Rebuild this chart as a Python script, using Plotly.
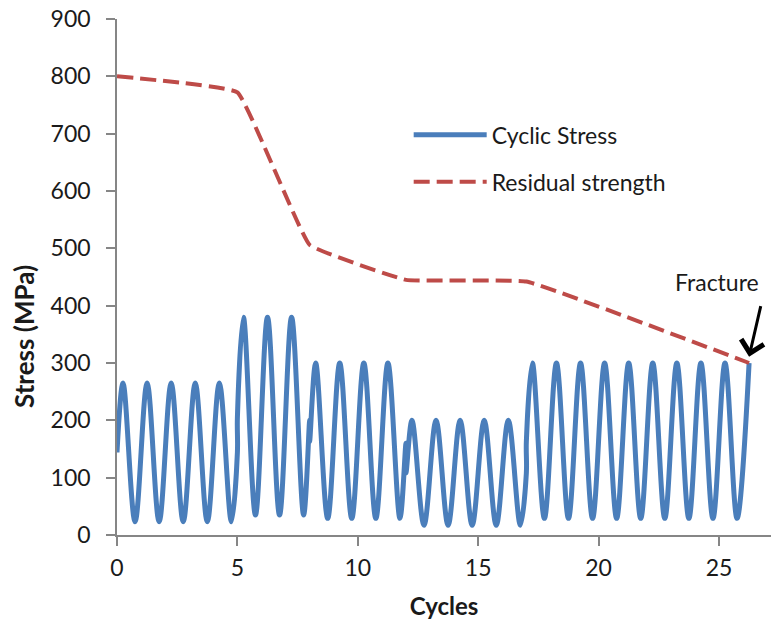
import plotly.graph_objects as go

# ---- Cyclic stress: turning points (cycles, MPa) ----
block1_x = [0, 0.25, 0.75, 1.25, 1.75, 2.25, 2.75, 3.25, 3.75, 4.25, 4.75, 5]
block1_y = [144, 265, 23, 265, 23, 265, 23, 265, 23, 265, 23, 144]
block2_x = [5, 5.25, 5.75, 6.25, 6.75, 7.25, 7.75, 8]
block2_y = [205, 380, 35, 380, 35, 380, 35, 200]
block3_x = [8, 8.25, 8.75, 9.25, 9.75, 10.25, 10.75, 11.25, 11.75, 12]
block3_y = [163, 300, 29, 300, 29, 300, 29, 300, 29, 160]
block4_x = [12, 12.25, 12.75, 13.25, 13.75, 14.25, 14.75, 15.25, 15.75, 16.25, 16.75, 17]
block4_y = [108, 200, 17, 200, 17, 200, 17, 200, 17, 200, 17, 108]
block5_x = [17, 17.25, 17.75, 18.25, 18.75, 19.25, 19.75, 20.25, 20.75, 21.25, 21.75,
            22.25, 22.75, 23.25, 23.75, 24.25, 24.75, 25.25, 25.75, 26.25]
block5_y = [163, 300, 29, 300, 29, 300, 29, 300, 29, 300, 29,
            300, 29, 300, 29, 300, 29, 300, 29, 300]

# ---- Residual strength ----
strength_x = [0, 5, 8, 12, 17, 26.25]
strength_y = [800, 772, 506, 445, 442, 300]

x_ticks = [0, 5, 10, 15, 20, 25]
y_ticks = [0, 100, 200, 300, 400, 500, 600, 700, 800, 900]

stress_x = block1_x + block2_x + block3_x + block4_x + block5_x
stress_y = block1_y + block2_y + block3_y + block4_y + block5_y

FONT = "Lato"
TXT = "#1a1a1a"
AX = "#868686"

fig = go.Figure()
fig.add_trace(go.Scatter(
    x=stress_x, y=stress_y, mode="lines", name="Cyclic Stress",
    line=dict(color="#4A7EBB", width=5, shape="spline", smoothing=1.0),
    legendgroup="a",
))
fig.add_trace(go.Scatter(
    x=strength_x, y=strength_y, mode="lines", name="Residual strength",
    line=dict(color="#BE4B48", width=4, dash="16px,7px", shape="spline", smoothing=0.25),
    legendgroup="b",
))

fig.add_annotation(x=26.25, y=311, xref="x", yref="y", text="", showarrow=True,
                   ax=12, ay=-52, arrowhead=4, arrowsize=1.5, arrowwidth=3,
                   arrowcolor="black")
fig.add_annotation(x=24.9, y=441, xref="x", yref="y", text="Fracture",
                   showarrow=False, xanchor="center", yanchor="middle",
                   font=dict(family=FONT, size=23, color=TXT))
# y-axis title (placed as in the original, below the axis centre)
fig.add_annotation(x=-0.142, y=0.384, xref="paper", yref="paper",
                   text="<b>Stress (MPa)</b>", textangle=-90, showarrow=False,
                   xanchor="center", yanchor="middle",
                   font=dict(family=FONT, size=26, color=TXT))

fig.update_layout(
    width=771, height=624,
    margin=dict(l=117, r=0, t=19, b=89),
    paper_bgcolor="white", plot_bgcolor="white",
    font=dict(family=FONT, size=23, color=TXT),
    showlegend=True,
    legend=dict(x=0.446, y=0.73, xanchor="left", yanchor="middle",
                bgcolor="rgba(0,0,0,0)", font=dict(family=FONT, size=23, color=TXT),
                tracegroupgap=14, itemwidth=73),
    xaxis=dict(range=[0, 27.16], tickvals=x_ticks, showgrid=False, zeroline=False,
               showline=True, linecolor=AX, linewidth=1.5, ticks="outside",
               ticklen=9, tickcolor=AX, tickwidth=1.5, ticklabelstandoff=3,
               automargin=False, ticklabeloverflow="allow",
               title=dict(text="<b>Cycles</b>", font=dict(family=FONT, size=24, color=TXT), standoff=18),
               tickfont=dict(family=FONT, size=23, color=TXT)),
    yaxis=dict(range=[0, 900], tickvals=y_ticks, showgrid=False, zeroline=False,
               showline=True, linecolor=AX, linewidth=1.5, ticks="outside",
               ticklen=9, tickcolor=AX, tickwidth=1.5, ticklabelstandoff=11,
               automargin=False, ticklabeloverflow="allow",
               tickfont=dict(family=FONT, size=23, color=TXT)),
)

# remove the default page margin so the figure sits at the window's top-left corner
fig.write_html("out.html",
               config={"displayModeBar": False},
               post_script="document.body.style.margin='0px';document.body.style.overflow='hidden';")
